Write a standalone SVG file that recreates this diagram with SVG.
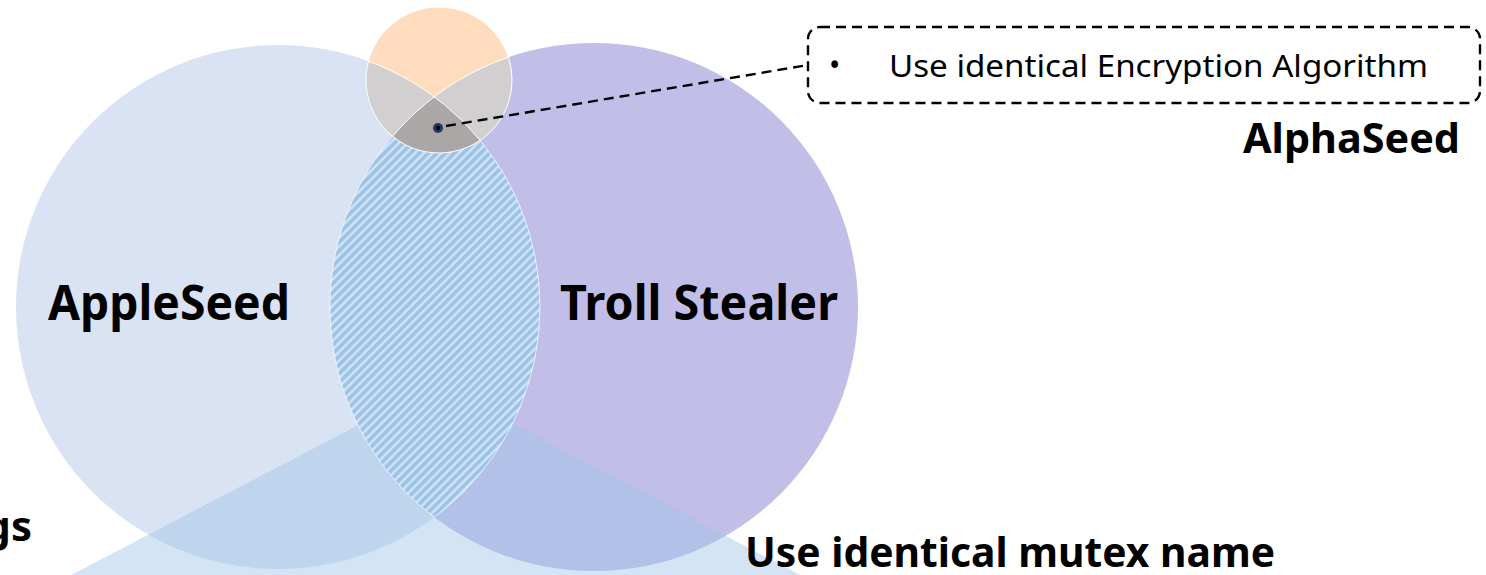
<svg xmlns="http://www.w3.org/2000/svg" width="1486" height="575" viewBox="0 0 1486 575">
<style>
.lbl{font-family:"Noto Sans","DejaVu Sans",sans-serif;font-weight:bold;fill:#000}
.txt{font-family:"Noto Sans","DejaVu Sans",sans-serif;fill:#000}
.edge{fill:none;stroke:#fff;stroke-width:1}
.dash{fill:none;stroke:#000;stroke-width:2.4;stroke-dasharray:10,6}
</style>
<defs>
<clipPath id="cpRight"><circle cx="594" cy="307" r="264"/></clipPath>
<clipPath id="cpLeft"><circle cx="278" cy="307" r="262"/></clipPath>
<clipPath id="cpSmall"><circle cx="439" cy="80" r="73"/></clipPath>
<pattern id="hatch" patternUnits="userSpaceOnUse" width="6.2" height="6.2" patternTransform="rotate(45)">
<rect width="6.2" height="6.2" fill="#d0e3f5"/>
<rect width="3.7" height="6.2" fill="#9dc3e6"/>
</pattern>
</defs>
<rect width="1486" height="575" fill="#fff"/>
<g id="appleseed">
<circle cx="278" cy="307" r="262" fill="#dae3f3"/>
</g>
<g id="trollstealer">
<circle cx="594" cy="307" r="264" fill="#c1bfe8"/>
</g>
<g id="mutex-area">
<polygon points="437,384 1000,680 -130,680" fill="#9dc3e6" fill-opacity="0.45"/>
</g>
<g id="overlap">
<circle cx="278" cy="307" r="262" fill="url(#hatch)" clip-path="url(#cpRight)"/>
<g clip-path="url(#cpRight)" opacity="0.7"><circle class="edge" cx="278" cy="307" r="262"/></g>
<g clip-path="url(#cpLeft)" opacity="0.7"><circle class="edge" cx="594" cy="307" r="264"/></g>
</g>
<g id="alphaseed">
<g clip-path="url(#cpSmall)">
<rect x="360" y="0" width="160" height="160" fill="#fedcbd"/>
<circle cx="278" cy="307" r="262" fill="#d2cfd0"/>
<circle cx="594" cy="307" r="264" fill="#d2cfd0"/>
<circle cx="278" cy="307" r="262" fill="#aca7a7" clip-path="url(#cpRight)"/>
<circle class="edge" cx="278" cy="307" r="262"/>
<circle class="edge" cx="594" cy="307" r="264"/>
</g>
<circle class="edge" cx="439" cy="80" r="73"/>
</g>
<g id="connectors">
<line class="dash" x1="446" y1="126" x2="808" y2="65"/>
<circle cx="438" cy="128" r="5" fill="#1f3864"/>
<circle cx="438" cy="128" r="2.2" fill="#000"/>
</g>
<g id="callout">
<rect class="dash" x="808" y="27" width="672" height="76" rx="12" ry="12" stroke-width="2"/>
<text class="txt" x="829" y="76" font-size="30">•</text>
<text class="txt" x="889" y="77" font-size="31" textLength="539" lengthAdjust="spacingAndGlyphs">Use identical Encryption Algorithm</text>
</g>
<g id="labels">
<text class="lbl" x="48" y="320" font-size="48" textLength="242" lengthAdjust="spacingAndGlyphs">AppleSeed</text>
<text class="lbl" x="560" y="320" font-size="48" textLength="278" lengthAdjust="spacingAndGlyphs">Troll Stealer</text>
<text class="lbl" x="1243" y="153" font-size="42" textLength="217" lengthAdjust="spacingAndGlyphs">AlphaSeed</text>
<text class="lbl" x="745" y="567" font-size="42" textLength="530" lengthAdjust="spacingAndGlyphs">Use identical mutex name</text>
<text class="lbl" x="32" y="541" font-size="42" text-anchor="end">gs</text>
</g>
</svg>
